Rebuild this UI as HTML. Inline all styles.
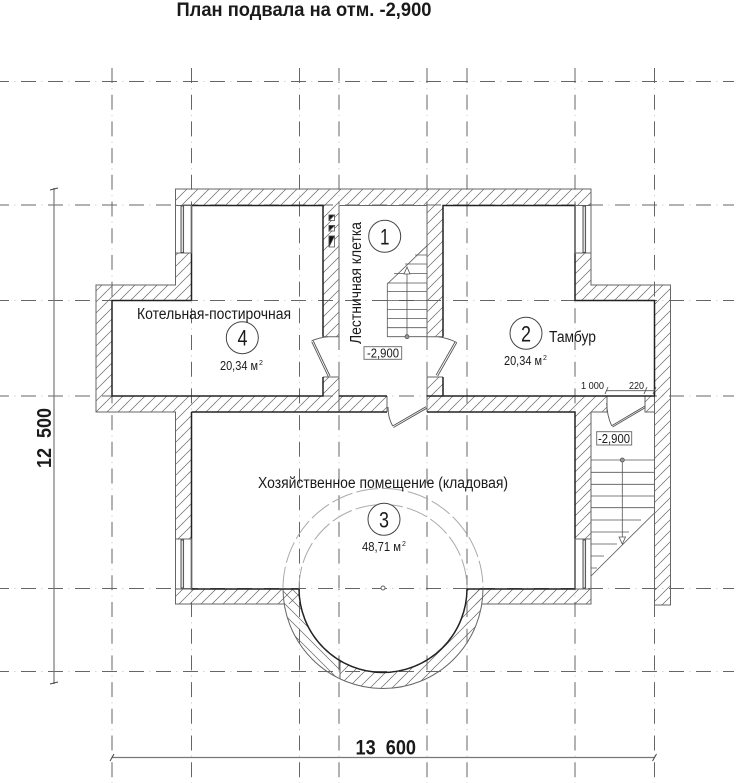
<!DOCTYPE html>
<html><head><meta charset="utf-8"><style>
html,body{margin:0;padding:0;background:#fff;width:736px;height:783px;overflow:hidden}
svg{display:block}
text{font-family:"Liberation Sans",sans-serif;fill:#1a1a1a}
</style></head><body>
<svg width="736" height="783" viewBox="0 0 736 783" xmlns="http://www.w3.org/2000/svg">
<defs>
<pattern id="h1" width="11" height="11" patternUnits="userSpaceOnUse" patternTransform="translate(2 0)">
<path d="M-2 13L13 -2M-2 2L2 -2M9 13L13 9" stroke="#666" stroke-width=".7" fill="none"/>
</pattern>
<pattern id="h2" width="11" height="11" patternUnits="userSpaceOnUse">
<path d="M-2 -2L13 13M-2 9L2 13M9 -2L13 2" stroke="#666" stroke-width=".7" fill="none"/>
</pattern>
</defs>
<rect width="736" height="783" fill="#fff"/>

<!-- grid -->
<g stroke="#666" stroke-width="1" fill="none" stroke-dasharray="15 11.7">
<path d="M112 68V783M191.5 68V783M299.5 68V783M339 68V783M427 68V783M467 68V783M575 68V783M654.5 68V783"/>
</g>
<g stroke="#d4d4d4" stroke-width="1" fill="none" stroke-dasharray="1.5 25.2" stroke-dashoffset="-20">
<path d="M112 68V783M191.5 68V783M299.5 68V783M339 68V783M427 68V783M467 68V783M575 68V783M654.5 68V783"/>
</g>
<g stroke="#666" stroke-width="1" fill="none" stroke-dasharray="15 12">
<path d="M-6 81.5H734M-6 205H734M-6 300.5H734M-6 396H734M-6 588.5H734M-6 671.5H734"/>
</g>
<g stroke="#d4d4d4" stroke-width="1" fill="none" stroke-dasharray="1.5 25.5" stroke-dashoffset="-20">
<path d="M-6 81.5H734M-6 205H734M-6 300.5H734M-6 396H734M-6 588.5H734M-6 671.5H734"/>
</g>

<!-- dimensions -->
<g stroke="#777" stroke-width="1.2" fill="none">
<path d="M54 188V684M112 757.5H654.5"/>
</g>
<g stroke="#444" stroke-width="1" fill="none">
<path d="M50 190L58 188M50 684L58 682M110 761L114 754M652.5 761L656.5 754"/>
</g>

<!-- hatched walls -->
<g fill="url(#h1)">
<path d="M175.5 189H591V205.5H175.5Z"/>
<path d="M175.5 253H191.5V300.5H112V412H96V285H175.5Z"/>
<path d="M112 396H387V412H112Z"/>
<path d="M323 205.5H339V336.7H323ZM323 377H339V396H323Z"/>
<path d="M427 205.5H443V336.7H427ZM427 377H443V396H427Z"/>
<path d="M427 396H607V412H427ZM645 396H654V412H645Z"/>
<path d="M575 253H591V285H670V605H654V300.5H575Z"/>
<path d="M175.5 412H191.5V539H175.5Z"/>
<path d="M575 412H591V539H575Z"/>
<path d="M175.5 589H299V604H175.5Z"/>
<path d="M467 589H591V604H467Z"/>
<path d="M340 660.6A84 84 0 0 0 467 588.5H483A100 100 0 0 1 340 678.8Z"/>
</g>
<path fill="url(#h2)" d="M299 588.5A84 84 0 0 0 340 660.6V678.8A100 100 0 0 1 283 588.5Z"/>

<!-- outer thin outlines -->
<g stroke="#666" stroke-width="1" fill="none">
<path d="M175.5 253V189H591V253"/>
<path d="M175.5 253V285H96V412H175.5V589"/>
<path d="M175.5 589V604H284.5"/>
<path d="M481.5 604H591V589"/>
<path d="M591 253V285H670.5V605H654.5V300.5"/>
<path d="M339 412H387M427 412H443"/>
<path d="M339 205.5V336.7M427 205.5V336.7"/>
<path d="M339 377V396M427 377V396M323 377H339M427 377H443M323 336.7H339M427 336.7H443"/>
<path d="M339.5 205.5H427M339 396V412M387 396V412M427 396V412"/>
<path d="M591 412H607V396M645 396V412H654"/>
<path d="M575 412V589M591 412V539M654.5 396V605"/>
<path d="M175.5 253H191.5M575 253H591M175.5 539H191.5M575 539H591"/>
<path d="M283 588.5A100 100 0 0 0 483 588.5"/>
<path d="M340 660.6V678.8"/>
</g>

<!-- inner dark outlines -->
<g stroke="#222" stroke-width="1.5" fill="none">
<path d="M191.5 300.5V205.5H323V336.7M323 377V396H112V300.5H191.5"/>
<path d="M443 336.7V205.5H575V300.5H654.5V396H443V377"/>
<path d="M191.5 412H387M427 412H575V589H467"/>
<path d="M191.5 412V589H299"/>
<path d="M339 396H387M427 396H443"/>
<path d="M299 588.5A84 84 0 0 0 467 588.5"/>
</g>

<!-- dashed circle -->
<g stroke="#aaa" stroke-width="1" fill="none" stroke-dasharray="22 4">
<path d="M299 588.5A84 84 0 0 1 467 588.5"/>
<path d="M283 588.5A100 100 0 0 1 483 588.5"/>
</g>
<circle cx="383" cy="588" r="2" fill="#fff" stroke="#666"/>

<!-- windows -->
<g fill="none" stroke="#666" stroke-width="1">
<rect x="175.5" y="205.5" width="16" height="47.5"/>
<rect x="575" y="205.5" width="16" height="47.5"/>
<rect x="175.5" y="539" width="16" height="50"/>
<rect x="575" y="539" width="16" height="50"/>
</g>
<g fill="#ddd" stroke="#444" stroke-width=".9">
<rect x="181" y="206" width="2.6" height="46.5"/>
<rect x="583" y="206" width="2.6" height="46.5"/>
<rect x="181" y="540" width="2.6" height="48"/>
<rect x="583" y="540" width="2.6" height="48"/>
</g>

<!-- vents -->
<g stroke="#555" stroke-width=".8">
<rect x="329" y="215" width="5.5" height="5.5" fill="#fff"/>
<path d="M329 220.5V215H334.5Z" fill="#111"/>
<rect x="329" y="225.5" width="5.5" height="5.5" fill="#fff"/>
<path d="M329 231V225.5H334.5Z" fill="#111"/>
<rect x="329" y="236" width="5.5" height="11" fill="#fff"/>
<path d="M329 247V236H334.5Z" fill="#111"/>
</g>

<!-- stair 1 -->
<g stroke="#555" stroke-width=".8" fill="none">
<path d="M387.3 336.7H427M387.3 327.7H427M387.3 318.5H427M387.3 309.5H427M387.3 300.5H427M387.3 291.5H427M387.3 283H427M394 273.5H427M405 264H427M415 255H427"/>
<path d="M387.3 336.7V284L427 245.7"/>
<path d="M407 336.7V272"/>
<path d="M404 274L407 267L410 274Z" fill="#fff"/>
<circle cx="407" cy="336.7" r="2" fill="#999"/>
</g>

<!-- stair 2 -->
<g stroke="#555" stroke-width=".8" fill="none">
<path d="M591 460H654M591 472.3H654M591 484.3H654M591 496H654M591 507.7H654M591 520H641M591 532H629M591 544H617M591 556H604M591 568H597"/>
<path d="M591 576L654.5 513"/>
<path d="M622.3 460V537"/>
<path d="M619 537L622.3 544L625.5 537Z" fill="#fff"/>
<circle cx="622.3" cy="460" r="2" fill="#999"/>
</g>

<!-- doors -->
<g stroke="#555" stroke-width=".9" fill="none">
<path d="M311.7 340.7Q320 337.5 328 336.7"/>
<path d="M311.7 341.7L328.3 376.7M313.3 341L330 376"/>
<path d="M456.7 342.5Q448 338 438 336.7"/>
<path d="M456.7 342.7L437.7 376M455 342L436 375.2"/>
<path d="M388 407Q388 418 392.7 426"/>
<path d="M426 406.7L392.7 426M426.8 408.2L393.5 427.5"/>
<path d="M606.7 403Q607 416 611.7 425.7"/>
<path d="M645 406L611.7 425.7M645.5 407.5L612.5 427"/>
<path d="M606 390.7H654"/>
<path d="M605 394L608 387M644 394L647 387M653 394L656 387"/>
</g>

<!-- level labels -->
<rect x="364" y="346.7" width="37.7" height="12.6" fill="#fff" stroke="#666" stroke-width=".9"/>
<text x="367" y="357.5" font-size="13" textLength="32" lengthAdjust="spacingAndGlyphs">-2,900</text>
<rect x="596.7" y="431.7" width="35" height="13.3" fill="#fff" stroke="#666" stroke-width=".9"/>
<text x="598" y="443" font-size="13" textLength="32" lengthAdjust="spacingAndGlyphs">-2,900</text>

<!-- circles -->
<g fill="#fff" stroke="#444" stroke-width="1">
<circle cx="384.7" cy="236.3" r="16"/>
<circle cx="242.3" cy="337.7" r="16"/>
<circle cx="526" cy="333.3" r="16"/>
<circle cx="384" cy="519.3" r="16"/>
</g>
<g font-size="22">
<text x="380" y="244.3" textLength="9.5" lengthAdjust="spacingAndGlyphs">1</text>
<text x="237.5" y="345.7" textLength="10" lengthAdjust="spacingAndGlyphs">4</text>
<text x="521" y="341.3" textLength="10" lengthAdjust="spacingAndGlyphs">2</text>
<text x="379" y="527.3" textLength="10" lengthAdjust="spacingAndGlyphs">3</text>
</g>

<!-- labels -->
<text x="176.5" y="16" font-size="19" font-weight="bold" fill="#111" textLength="255" lengthAdjust="spacingAndGlyphs">План подвала на отм. -2,900</text>
<text x="137" y="319" font-size="15.5" textLength="154" lengthAdjust="spacingAndGlyphs">Котельная-постирочная</text>
<text x="220" y="370" font-size="13" textLength="38" lengthAdjust="spacingAndGlyphs">20,34 м</text>
<text x="259" y="365" font-size="7">2</text>
<text x="549" y="342" font-size="15.5" textLength="47" lengthAdjust="spacingAndGlyphs">Тамбур</text>
<text x="504" y="365" font-size="13" textLength="38" lengthAdjust="spacingAndGlyphs">20,34 м</text>
<text x="543" y="360" font-size="7">2</text>
<text x="362" y="551" font-size="13" textLength="39" lengthAdjust="spacingAndGlyphs">48,71 м</text>
<text x="402" y="546" font-size="7">2</text>
<text x="258" y="488" font-size="15.5" textLength="250" lengthAdjust="spacingAndGlyphs">Хозяйственное помещение (кладовая)</text>
<text transform="translate(361 344) rotate(-90)" font-size="15.5" textLength="122" lengthAdjust="spacingAndGlyphs">Лестничная клетка</text>
<text x="581" y="389" font-size="10.5" textLength="23" lengthAdjust="spacingAndGlyphs">1 000</text>
<text x="629" y="389" font-size="10.5" textLength="15" lengthAdjust="spacingAndGlyphs">220</text>
<text x="355.5" y="754.3" font-size="21" font-weight="bold" fill="#111" textLength="60.5" lengthAdjust="spacingAndGlyphs" xml:space="preserve">13  600</text>
<text transform="translate(51 468) rotate(-90)" font-size="20" font-weight="bold" fill="#111" textLength="60" lengthAdjust="spacingAndGlyphs" xml:space="preserve">12  500</text>
</svg>
</body></html>
